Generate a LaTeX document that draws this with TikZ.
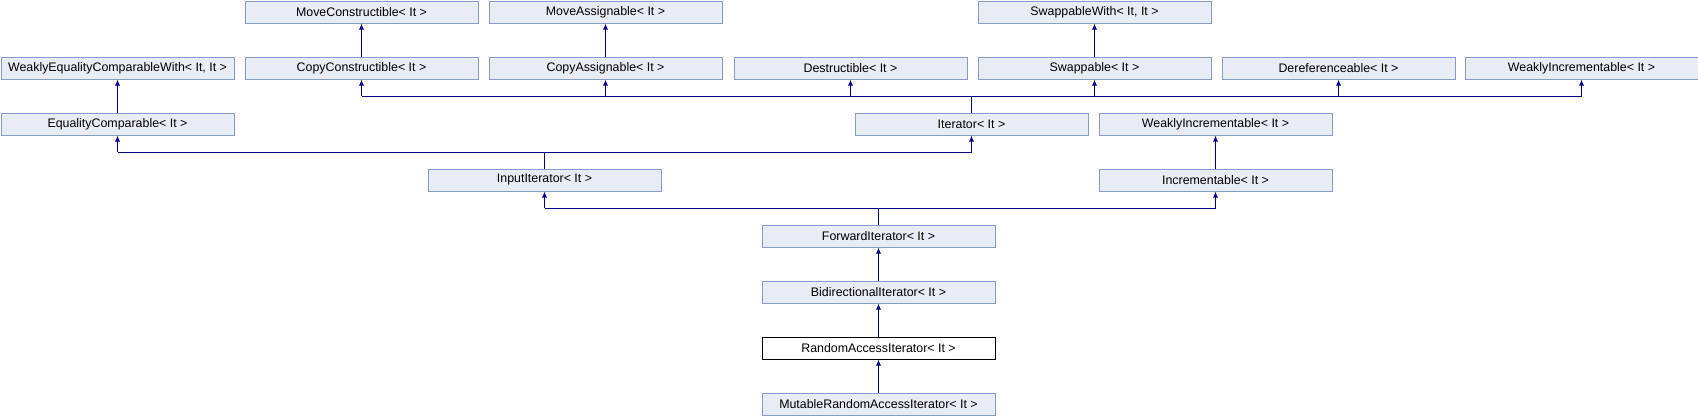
\documentclass[tikz,border=0pt]{standalone}
\usepackage{fontspec}
\setmainfont{Liberation Sans}
\usetikzlibrary{arrows.meta}
\definecolor{boxfill}{RGB}{232,236,244}
\definecolor{boxline}{RGB}{132,155,204}
\definecolor{linkcol}{RGB}{0,0,140}
\tikzset{
	cls/.style={draw=boxline,fill=boxfill,line width=1pt,rectangle,anchor=north west,
		minimum width=233pt,minimum height=22pt,inner sep=0pt,
		font=\fontsize{12.4}{14}\selectfont},
	cur/.style={cls,draw=black,fill=white},
	link/.style={draw=linkcol,line width=1pt},
	inh/.style={link,-{Latex[length=6pt,width=5pt]}}
}
\begin{document}
\begin{tikzpicture}[x=1pt,y=-1pt]
	\useasboundingbox (0,0) rectangle (1698,416);
	% row 0
	\node[cls] (mc) at (244.5,0.5) {MoveConstructible< It >};
	\node[cls] (ma) at (488.5,0.5) {MoveAssignable< It >};
	\node[cls] (sww) at (977.5,0.5) {SwappableWith< It, It >};
	% row 1
	\node[cls] (wecw) at (0.5,56.5) {WeaklyEqualityComparableWith< It, It >};
	\node[cls] (cc) at (244.5,56.5) {CopyConstructible< It >};
	\node[cls] (ca) at (488.5,56.5) {CopyAssignable< It >};
	\node[cls] (de) at (733.5,56.5) {Destructible< It >};
	\node[cls] (sw) at (977.5,56.5) {Swappable< It >};
	\node[cls] (dr) at (1221.5,56.5) {Dereferenceable< It >};
	\node[cls] (wi) at (1464.5,56.5) {WeaklyIncrementable< It >};
	% row 2
	\node[cls] (ec) at (0.5,112.5) {EqualityComparable< It >};
	\node[cls] (it) at (854.5,112.5) {Iterator< It >};
	\node[cls] (wi2) at (1098.5,112.5) {WeaklyIncrementable< It >};
	% row 3
	\node[cls] (ii) at (427.5,168.5) {InputIterator< It >};
	\node[cls] (inc) at (1098.5,168.5) {Incrementable< It >};
	% rows 4 to 7
	\node[cls] (fi) at (761.5,224.5) {ForwardIterator< It >};
	\node[cls] (bi) at (761.5,280.5) {BidirectionalIterator< It >};
	\node[cur] (ra) at (761.5,336.5) {RandomAccessIterator< It >};
	\node[cls] (mra) at (761.5,392.5) {MutableRandomAccessIterator< It >};

	% simple edges
	\draw[inh] (cc.north) -- (mc.south);
	\draw[inh] (ca.north) -- (ma.south);
	\draw[inh] (sw.north) -- (sww.south);
	\draw[inh] (ec.north) -- (wecw.south);
	\draw[inh] (inc.north) -- (wi2.south);
	\draw[inh] (bi.north) -- (fi.south);
	\draw[inh] (ra.north) -- (bi.south);
	\draw[inh] (mra.north) -- (ra.south);

	% Iterator bus
	\coordinate (bus1) at (971,96);
	\draw[link] (it.north) -- (it.north |- bus1);
	\draw[link] (cc.south |- bus1) -- (wi.south |- bus1);
	\foreach \n in {cc,ca,de,sw,dr,wi}
		\draw[inh] (\n.south |- bus1) -- (\n.south);

	% InputIterator bus
	\coordinate (bus2) at (544,152);
	\draw[link] (ii.north) -- (ii.north |- bus2);
	\draw[link] (ec.south |- bus2) -- (it.south |- bus2);
	\foreach \n in {ec,it}
		\draw[inh] (\n.south |- bus2) -- (\n.south);

	% ForwardIterator bus
	\coordinate (bus3) at (878,208);
	\draw[link] (fi.north) -- (fi.north |- bus3);
	\draw[link] (ii.south |- bus3) -- (inc.south |- bus3);
	\foreach \n in {ii,inc}
		\draw[inh] (\n.south |- bus3) -- (\n.south);
\end{tikzpicture}
\end{document}
